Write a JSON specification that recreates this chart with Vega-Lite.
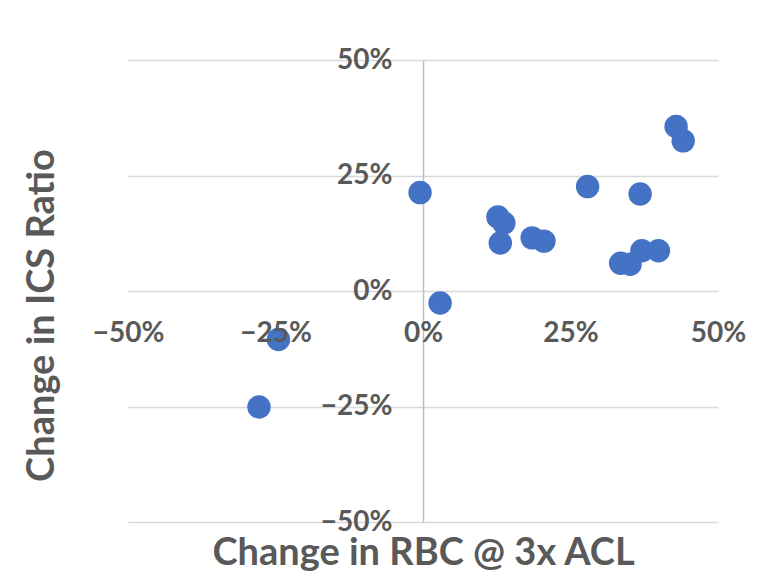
{
  "$schema": "https://vega.github.io/schema/vega-lite/v6.json",
  "autosize": "none",
  "width": 590,
  "height": 462,
  "padding": {"left": 128, "top": 60, "right": 42, "bottom": 66},
  "background": "white",
  "config": {"view": {"stroke": null}, "font": "Lato"},
  "data": {"values": [
    {"rbc_change": -0.278, "ics_change": -0.251},
    {"rbc_change": -0.245, "ics_change": -0.105},
    {"rbc_change": -0.005, "ics_change": 0.213},
    {"rbc_change": 0.029, "ics_change": -0.026},
    {"rbc_change": 0.127, "ics_change": 0.160},
    {"rbc_change": 0.137, "ics_change": 0.147},
    {"rbc_change": 0.131, "ics_change": 0.104},
    {"rbc_change": 0.185, "ics_change": 0.115},
    {"rbc_change": 0.205, "ics_change": 0.108},
    {"rbc_change": 0.279, "ics_change": 0.226},
    {"rbc_change": 0.368, "ics_change": 0.210},
    {"rbc_change": 0.429, "ics_change": 0.356},
    {"rbc_change": 0.441, "ics_change": 0.325},
    {"rbc_change": 0.335, "ics_change": 0.060},
    {"rbc_change": 0.351, "ics_change": 0.058},
    {"rbc_change": 0.371, "ics_change": 0.087},
    {"rbc_change": 0.399, "ics_change": 0.087}
  ]},
  "mark": {"type": "circle", "size": 550, "color": "#4472C4", "opacity": 1},
  "encoding": {
    "x": {
      "field": "rbc_change", "type": "quantitative",
      "scale": {"domain": [-0.5, 0.5], "nice": false, "zero": false},
      "axis": {
        "title": "Change in RBC @ 3x ACL",
        "values": [-0.5, -0.25, 0, 0.25, 0.5],
        "format": ".0%",
        "offset": -231,
        "zindex": 1,
        "grid": false,
        "domain": false,
        "ticks": false,
        "tickSize": 0,
        "labelPadding": 42,
        "labelBaseline": "middle",
        "labelFlush": false,
        "labelOverlap": false,
        "labelFont": "Lato",
        "labelFontSize": 28,
        "labelFontWeight": "bold",
        "labelColor": "#595959",
        "titleFont": "Lato",
        "titleFontSize": 38,
        "titleFontWeight": "bold",
        "titleColor": "#595959",
        "titleX": 295,
        "titleY": 262,
        "titleBaseline": "middle",
        "titleAlign": "center"
      }
    },
    "y": {
      "field": "ics_change", "type": "quantitative",
      "scale": {"domain": [-0.5, 0.5], "nice": false, "zero": false},
      "axis": {
        "title": "Change in ICS Ratio",
        "values": [-0.5, -0.25, 0, 0.25, 0.5],
        "format": ".0%",
        "offset": -295,
        "zindex": 0,
        "grid": true,
        "gridColor": "#d9d9d9",
        "gridWidth": 1.5,
        "domain": true,
        "domainColor": "#bfbfbf",
        "domainWidth": 1.5,
        "ticks": false,
        "tickSize": 0,
        "labelPadding": 31,
        "labelBaseline": "middle",
        "labelFlush": false,
        "labelOverlap": false,
        "labelFont": "Lato",
        "labelFontSize": 28,
        "labelFontWeight": "bold",
        "labelColor": "#595959",
        "titleFont": "Lato",
        "titleFontSize": 38,
        "titleFontWeight": "bold",
        "titleColor": "#595959",
        "titleAngle": -90,
        "titleX": -381,
        "titleY": 255,
        "titleBaseline": "middle",
        "titleAlign": "center"
      }
    }
  }
}
